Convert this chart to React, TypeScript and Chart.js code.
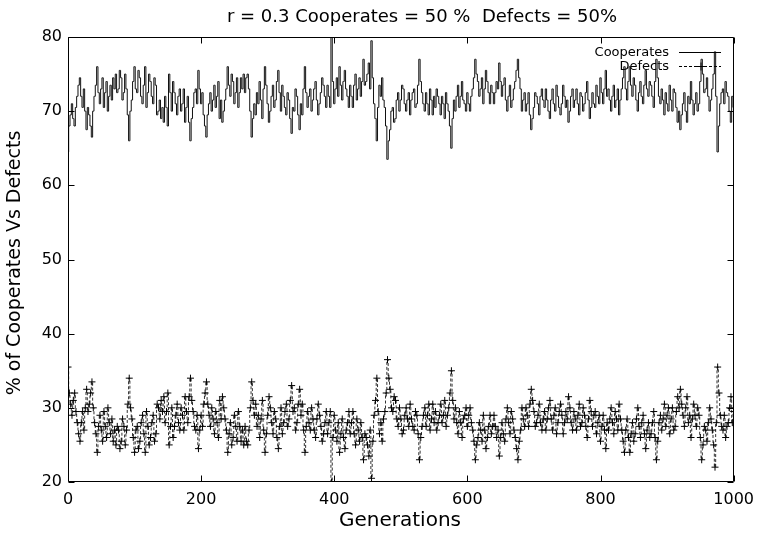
import React, { useEffect, useRef } from "react";
import { Chart, registerables } from "chart.js";

Chart.register(...registerables);

// Generation spacing between the sampled values below
const generationStep = 2;

// % of cooperators, sampled every 2 generations (0..1000)
const cooperates: number[] = [
  64.5, 68, 69.5, 71, 69, 68, 70.5, 72, 73.5, 74.5, 72, 70.5, 73, 70, 67.5, 70.5, 69.5, 68, 66.5, 70,
  72, 73.5, 76, 72.5, 71, 73, 74.5, 70.5, 72.5, 74, 70, 72, 73.5, 71.5, 74.5, 73, 75, 72.5, 73, 75.5,
  74.5, 71.5, 72.5, 75, 73, 69.5, 66, 70, 71.5, 74, 76, 73, 72.5, 75.5, 74.5, 72, 71, 73.5, 76, 70.5,
  72.5, 75, 74, 72, 71, 74.5, 73.5, 69.5, 70, 71.5, 69, 70.5, 68.5, 72, 70.5, 68, 75, 72.5, 70, 74,
  72.5, 71, 69.5, 72, 73, 70, 71, 73, 68.5, 70.5, 72, 68.5, 66, 69, 70.5, 72.5, 73, 71, 75.5, 73,
  71, 72.5, 69.5, 68, 66.5, 69.5, 71, 72.5, 70, 71.5, 73.5, 70.5, 72, 74, 69, 71.5, 68.5, 70, 71.5, 73,
  76, 73.5, 72, 75, 74, 71, 72.5, 74.5, 70.5, 72.5, 74.5, 73, 75, 72.5, 74.5, 75, 73, 70, 66.5, 69,
  71, 69.5, 72.5, 71, 74, 71.5, 69, 73, 76, 73.5, 71, 68.5, 70, 72, 73.5, 70.5, 71.5, 74, 75.5, 72.5,
  70, 73.5, 72, 70.5, 69.5, 72.5, 71.5, 69, 67, 70.5, 70, 73, 72, 69.5, 67.5, 71, 69.5, 73, 76, 72.5,
  70.5, 72, 73, 70, 71.5, 73, 74, 71.5, 69.5, 71, 72.5, 74.5, 73.5, 72, 70.5, 73.5, 72, 70.5, 80, 74,
  71, 73, 74.5, 72, 76, 73.5, 71.5, 74, 75.5, 73, 72, 70.5, 73.5, 72, 70.5, 73.5, 75, 71.5, 73, 74.5,
  72, 74, 77, 73.5, 74, 75, 76.5, 73, 79.5, 74.5, 71, 69, 66, 70.5, 73.5, 72, 74.5, 71.5, 70.5, 68,
  63.5, 66, 67.5, 70, 70.5, 68.5, 69, 71.5, 72.5, 70, 71.5, 73.5, 73, 71, 70, 71.5, 72.5, 69.5, 71.5, 72.5,
  73, 70.5, 71, 73.5, 77, 74, 72.5, 71, 70, 72.5, 71, 69.5, 73, 71.5, 69.5, 72, 70.5, 73, 72, 71,
  69.5, 72, 71, 69, 72.5, 71, 70, 68, 65, 69, 71.5, 70, 72, 73.5, 70.5, 72, 74, 71.5, 71, 70,
  72.5, 71, 70, 72, 73, 74.5, 77, 75, 74, 72, 73, 74.5, 71, 73, 75.5, 74, 72.5, 71, 73.5, 72.5,
  71, 72.5, 74, 73, 76.5, 74, 72, 73.5, 74.5, 71.5, 70, 72, 73.5, 70.5, 71.5, 73, 74, 75.5, 77, 74.5,
  73, 70, 71.5, 72.5, 70, 71, 72.5, 69.5, 67.5, 69, 70.5, 72.5, 72, 71, 69.5, 72, 73, 71.5, 70.5, 73,
  71.5, 70, 69, 71.5, 73, 71, 70, 73.5, 72, 70.5, 69.5, 71, 73.5, 72, 70.5, 71.5, 68.5, 70, 72, 73,
  70.5, 71.5, 73, 71, 69.5, 72.5, 72, 70, 71, 72.5, 74, 71.5, 69, 70.5, 72.5, 71, 70.5, 73.5, 72, 71,
  74.5, 72.5, 71, 73, 75.5, 72, 73, 71.5, 70, 72, 73.5, 70.5, 71.5, 73, 69.5, 71.5, 73, 74.5, 76, 73,
  71.5, 74, 76, 73.5, 72, 74.5, 73.5, 71.5, 70, 72.5, 74, 72, 71, 73.5, 75.5, 73, 72, 74, 73.5, 72,
  70.5, 74, 77, 74.5, 72, 71, 73, 71.5, 69.5, 72.5, 71, 70, 73.5, 71.5, 70, 73, 72.5, 70.5, 68.5, 70,
  67.5, 69.5, 71, 72.5, 70, 68.5, 72, 71, 74, 71.5, 69.5, 71, 72.5, 70, 71, 74, 77, 75, 72.5, 73,
  74.5, 72, 70, 71.5, 73, 75, 78, 72, 64.5, 68, 71, 72.5, 73, 71, 74, 72.5, 72, 70, 68.5, 72,
  70.5,
];

// % of defectors, sampled every 2 generations (0..1000)
const defects: number[] = [
  35.5, 32, 30.5, 29, 31, 32, 29.5, 28, 26.5, 25.5, 28, 29.5, 27, 30, 32.5, 29.5, 30.5, 32, 33.5, 30,
  28, 26.5, 24, 27.5, 29, 27, 25.5, 29.5, 27.5, 26, 30, 28, 26.5, 28.5, 25.5, 27, 25, 27.5, 27, 24.5,
  25.5, 28.5, 27.5, 25, 27, 30.5, 34, 30, 28.5, 26, 24, 27, 27.5, 24.5, 25.5, 28, 29, 26.5, 24, 29.5,
  27.5, 25, 26, 28, 29, 25.5, 26.5, 30.5, 30, 28.5, 31, 29.5, 31.5, 28, 29.5, 32, 25, 27.5, 30, 26,
  27.5, 29, 30.5, 28, 27, 30, 29, 27, 31.5, 29.5, 28, 31.5, 34, 31, 29.5, 27.5, 27, 29, 24.5, 27,
  29, 27.5, 30.5, 32, 33.5, 30.5, 29, 27.5, 30, 28.5, 26.5, 29.5, 28, 26, 31, 28.5, 31.5, 30, 28.5, 27,
  24, 26.5, 28, 25, 26, 29, 27.5, 25.5, 29.5, 27.5, 25.5, 27, 25, 27.5, 25.5, 25, 27, 30, 33.5, 31,
  29, 30.5, 27.5, 29, 26, 28.5, 31, 27, 24, 26.5, 29, 31.5, 30, 28, 26.5, 29.5, 28.5, 26, 24.5, 27.5,
  30, 26.5, 28, 29.5, 30.5, 27.5, 28.5, 31, 33, 29.5, 30, 27, 28, 30.5, 32.5, 29, 30.5, 27, 24, 27.5,
  29.5, 28, 27, 30, 28.5, 27, 26, 28.5, 30.5, 29, 27.5, 25.5, 26.5, 28, 29.5, 26.5, 28, 29.5, 20, 26,
  29, 27, 25.5, 28, 24, 26.5, 28.5, 26, 24.5, 27, 28, 29.5, 26.5, 28, 29.5, 26.5, 25, 28.5, 27, 25.5,
  28, 26, 23, 26.5, 26, 25, 23.5, 27, 20.5, 25.5, 29, 31, 34, 29.5, 26.5, 28, 25.5, 28.5, 29.5, 32,
  36.5, 34, 32.5, 30, 29.5, 31.5, 31, 28.5, 27.5, 30, 28.5, 26.5, 27, 29, 30, 28.5, 27.5, 30.5, 28.5, 27.5,
  27, 29.5, 29, 26.5, 23, 26, 27.5, 29, 30, 27.5, 29, 30.5, 27, 28.5, 30.5, 28, 29.5, 27, 28, 29,
  30.5, 28, 29, 31, 27.5, 29, 30, 32, 35, 31, 28.5, 30, 28, 26.5, 29.5, 28, 26, 28.5, 29, 30,
  27.5, 29, 30, 28, 27, 25.5, 23, 25, 26, 28, 27, 25.5, 29, 27, 24.5, 26, 27.5, 29, 26.5, 27.5,
  29, 27.5, 26, 27, 23.5, 26, 28, 26.5, 25.5, 28.5, 30, 28, 26.5, 29.5, 28.5, 27, 26, 24.5, 23, 25.5,
  27, 30, 28.5, 27.5, 30, 29, 27.5, 30.5, 32.5, 31, 29.5, 27.5, 28, 29, 30.5, 28, 27, 28.5, 29.5, 27,
  28.5, 30, 31, 28.5, 27, 29, 30, 26.5, 28, 29.5, 30.5, 29, 26.5, 28, 29.5, 28.5, 31.5, 30, 28, 27,
  29.5, 28.5, 27, 29, 30.5, 27.5, 28, 30, 29, 27.5, 26, 28.5, 31, 29.5, 27.5, 29, 29.5, 26.5, 28, 29,
  25.5, 27.5, 29, 27, 24.5, 28, 27, 28.5, 30, 28, 26.5, 29.5, 28.5, 27, 30.5, 28.5, 27, 25.5, 24, 27,
  28.5, 26, 24, 26.5, 28, 25.5, 26.5, 28.5, 30, 27.5, 26, 28, 29, 26.5, 24.5, 27, 28, 26, 26.5, 28,
  29.5, 26, 23, 25.5, 28, 29, 27, 28.5, 30.5, 27.5, 29, 30, 26.5, 28.5, 30, 27, 27.5, 29.5, 31.5, 30,
  32.5, 30.5, 29, 27.5, 30, 31.5, 28, 29, 26, 28.5, 30.5, 29, 27.5, 30, 29, 26, 23, 25, 27.5, 27,
  25.5, 28, 30, 28.5, 27, 25, 22, 28, 35.5, 32, 29, 27.5, 27, 29, 26, 27.5, 28, 30, 31.5, 28,
  29.5,
];

const generations: number[] = cooperates.map((_, i) => i * generationStep);

const xTicks = [0, 200, 400, 600, 800, 1000];
const yTicks = [20, 30, 40, 50, 60, 70, 80];

const titleText = "r = 0.3 Cooperates = 50 %  Defects = 50%";
const xLabel = "Generations";
const yLabel = "% of Cooperates Vs Defects";
const seriesNames = ["Cooperates", "Defects"];

const FONT = '"DejaVu Sans", "Liberation Sans", sans-serif';

const decorPlugin = {
  id: "decor",
  afterDatasetsDraw(chart: any) {
    const { ctx, chartArea: a, scales } = chart;
    ctx.save();
    ctx.strokeStyle = "#000";
    ctx.lineWidth = 1;
    ctx.setLineDash([]);
    // frame
    const L = Math.round(a.left) + 0.5;
    const R = Math.round(a.right) - 0.5;
    const T = Math.round(a.top) + 0.5;
    const B = Math.round(a.bottom) - 0.5;
    ctx.beginPath();
    ctx.rect(L, T, R - L, B - T);
    ctx.stroke();
    // inward ticks
    const tl = 6;
    ctx.beginPath();
    for (const v of xTicks) {
      const px = Math.round(scales.x.getPixelForValue(v)) + 0.5;
      ctx.moveTo(px, B);
      ctx.lineTo(px, B - tl);
      ctx.moveTo(px, T);
      ctx.lineTo(px, T + tl);
    }
    for (const v of yTicks) {
      const py = Math.round(scales.y.getPixelForValue(v)) + 0.5;
      ctx.moveTo(L, py);
      ctx.lineTo(L + tl, py);
      ctx.moveTo(R, py);
      ctx.lineTo(R - tl, py);
    }
    ctx.stroke();

    // legend
    ctx.fillStyle = "#000";
    ctx.font = `13px ${FONT}`;
    ctx.textAlign = "right";
    ctx.textBaseline = "middle";
    const lx = 669;
    const ly1 = 52.5;
    const ly2 = 66.5;
    ctx.fillText(seriesNames[0], lx, ly1);
    ctx.fillText(seriesNames[1], lx, ly2);
    ctx.beginPath();
    ctx.moveTo(679, ly1);
    ctx.lineTo(721, ly1);
    ctx.stroke();
    ctx.setLineDash([3, 2]);
    ctx.beginPath();
    ctx.moveTo(679, ly2);
    ctx.lineTo(721, ly2);
    ctx.stroke();
    ctx.setLineDash([]);
    ctx.beginPath();
    ctx.moveTo(697, ly2);
    ctx.lineTo(705, ly2);
    ctx.moveTo(701, ly2 - 4);
    ctx.lineTo(701, ly2 + 4);
    ctx.stroke();

    // title
    ctx.font = `18px ${FONT}`;
    ctx.textAlign = "center";
    ctx.textBaseline = "alphabetic";
    ctx.fillText(titleText, 422, 21.5);

    // axis titles
    ctx.font = `20px ${FONT}`;
    ctx.textBaseline = "middle";
    ctx.fillText(xLabel, 400, 521);
    ctx.font = `19px ${FONT}`;
    ctx.save();
    ctx.translate(15, 263);
    ctx.rotate(-Math.PI / 2);
    ctx.fillText(yLabel, 0, 0);
    ctx.restore();

    ctx.restore();
  },
};

export default function App() {
  const ref = useRef<HTMLCanvasElement | null>(null);

  useEffect(() => {
    if (!ref.current) return;
    const chart = new Chart(ref.current, {
      type: "line",
      data: {
        datasets: [
          {
            label: seriesNames[0],
            data: generations.map((g, i) => ({ x: g, y: cooperates[i] })),
            borderColor: "#111",
            borderWidth: 1,
            pointRadius: 0,
            stepped: "middle",
            fill: false,
          },
          {
            label: seriesNames[1],
            data: generations.map((g, i) => ({ x: g, y: defects[i] })),
            borderColor: "#333",
            borderWidth: 1,
            borderDash: [3, 2],
            pointStyle: "cross",
            pointRadius: 3.5,
            pointBorderColor: "#000",
            pointBorderWidth: 1,
            pointBackgroundColor: "#000",
            stepped: "middle",
            fill: false,
          },
        ],
      },
      options: {
        responsive: false,
        animation: false,
        devicePixelRatio: 1,
        layout: { padding: { top: 37, right: 23, left: 0, bottom: 0 } },
        plugins: {
          legend: { display: false },
          title: { display: false },
          tooltip: { enabled: false },
        },
        scales: {
          x: {
            type: "linear",
            min: 0,
            max: 1000,
            afterBuildTicks: (s: any) => {
              s.ticks = xTicks.map((v) => ({ value: v }));
            },
            afterFit: (s: any) => {
              s.height = 54;
            },
            grid: { display: false, drawTicks: false },
            border: { display: false },
            ticks: {
              font: { family: FONT, size: 16 },
              color: "#000",
              padding: 8,
              maxRotation: 0,
              autoSkip: false,
              callback: (v: any) => String(v),
            },
          },
          y: {
            type: "linear",
            min: 20,
            max: 80,
            afterBuildTicks: (s: any) => {
              s.ticks = yTicks.map((v) => ({ value: v }));
            },
            afterFit: (s: any) => {
              s.width = 68;
            },
            grid: { display: false, drawTicks: false },
            border: { display: false },
            ticks: {
              font: { family: FONT, size: 16 },
              color: "#000",
              padding: 6,
              autoSkip: false,
              callback: (v: any) => String(v),
            },
          },
        },
      },
      plugins: [decorPlugin],
    });
    return () => chart.destroy();
  }, []);

  return (
    <canvas
      ref={ref}
      width={762}
      height={536}
      style={{ position: "absolute", left: 0, top: 0, width: 762, height: 536, background: "#fff" }}
    />
  );
}
